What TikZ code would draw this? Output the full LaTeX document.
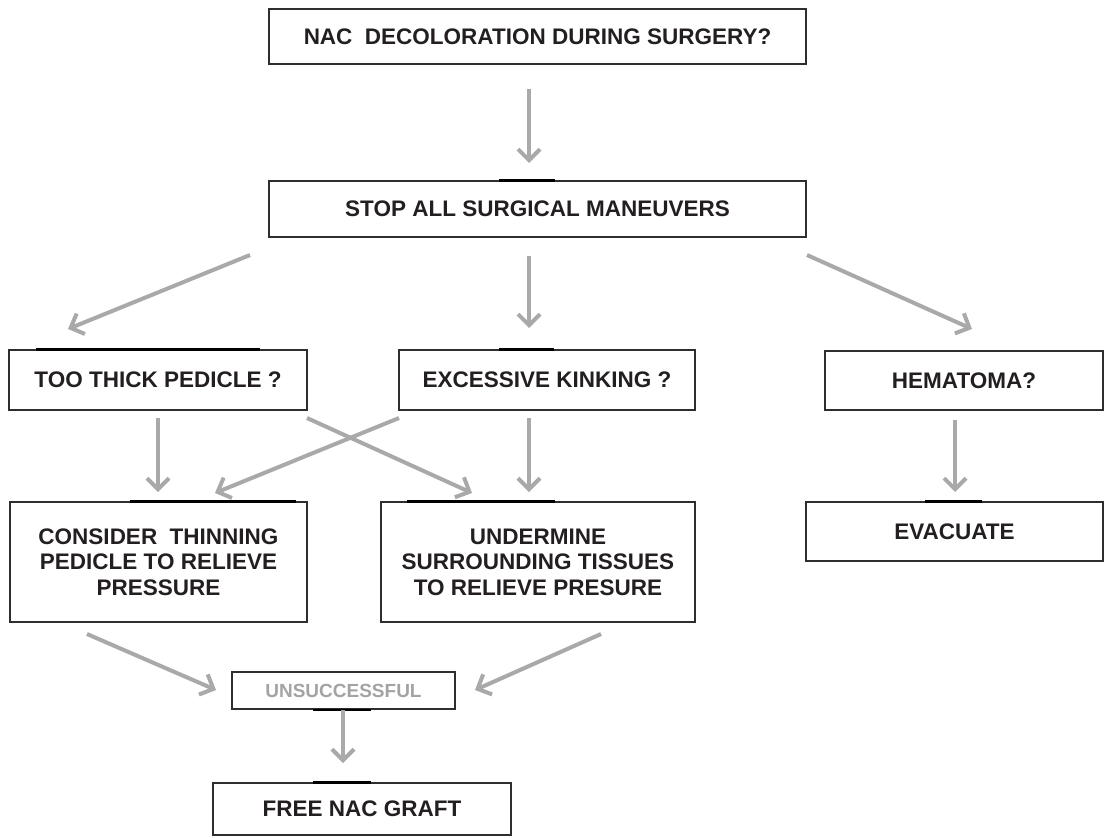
\documentclass[tikz,border=0pt]{standalone}
\usepackage{fontspec}
\setmainfont{Liberation Sans}
\usetikzlibrary{arrows.meta}
\definecolor{arrgray}{HTML}{A9A9A9}
\definecolor{boxline}{HTML}{2E2E2E}
\definecolor{txt}{HTML}{231F20}
\definecolor{ltxt}{HTML}{A3A3A3}
\tikzset{
  box/.style={draw=boxline, line width=1.3pt, rectangle, inner sep=0pt, align=center,
    font=\fontsize{22.5}{25.5}\selectfont\bfseries, text=txt},
  arr/.style={draw=arrgray, line width=4pt, -{Straight Barb[length=11pt,width=22pt]}},
  seg/.style={draw=black, line width=2.8pt},
}
\begin{document}
\begin{tikzpicture}[x=1pt,y=1pt]
\useasboundingbox (0,0) rectangle (1106,-838);
% boxes
\node[box, minimum width=537pt, minimum height=55pt] (top) at (537.5,-36.5) {NAC\ \ DECOLORATION DURING SURGERY?};
\node[box, minimum width=537pt, minimum height=56pt] (stop) at (537.5,-209) {STOP ALL SURGICAL MANEUVERS};
\node[box, minimum width=298pt, minimum height=60pt] (thick) at (158,-380) {TOO THICK PEDICLE ?};
\node[box, minimum width=296pt, minimum height=60pt] (excess) at (547,-380) {EXCESSIVE KINKING ?};
\node[box, minimum width=278pt, minimum height=59pt] (hema) at (964,-380.5) {HEMATOMA?};
\node[box, minimum width=297pt, minimum height=120pt] (consider) at (158.5,-562) {CONSIDER\ \ THINNING\\PEDICLE TO RELIEVE\\PRESSURE};
\node[box, minimum width=314pt, minimum height=120pt] (under) at (538,-562) {UNDERMINE\\SURROUNDING TISSUES\\TO RELIEVE PRESURE};
\node[box, minimum width=297pt, minimum height=59pt] (evac) at (954.5,-531.5) {EVACUATE};
\node[box, minimum width=223pt, minimum height=37pt, text=ltxt, font=\fontsize{19}{22}\selectfont\bfseries] (unsucc) at (343.5,-690.5) {UNSUCCESSFUL};
\node[box, minimum width=298pt, minimum height=52pt] (free) at (362,-809) {FREE NAC GRAFT};
% dark segments on top edges
\draw[seg] ([xshift=231pt]stop.north west) -- ([xshift=287pt]stop.north west);
\draw[seg] ([xshift=28pt]thick.north west) -- ([xshift=252pt]thick.north west);
\draw[seg] ([xshift=101pt]excess.north west) -- ([xshift=156pt]excess.north west);
\draw[seg] ([xshift=121pt]consider.north west) -- ([xshift=287pt]consider.north west);
\draw[seg] ([xshift=27pt]under.north west) -- ([xshift=175pt]under.north west);
\draw[seg] ([xshift=120pt]evac.north west) -- ([xshift=177pt]evac.north west);
\draw[seg] ([xshift=101pt]free.north west) -- ([xshift=159pt]free.north west);
\draw[seg, line width=2pt] ([xshift=82pt]unsucc.south west) -- ([xshift=140pt]unsucc.south west);
% arrow end points
\coordinate (a1s) at (529,-89);   \coordinate (a1e) at (529,-163);
\coordinate (a2s) at (250,-255);  \coordinate (a2e) at (68,-329);
\coordinate (a3s) at (529,-256);  \coordinate (a3e) at (529,-328);
\coordinate (a4s) at (807,-255);  \coordinate (a4e) at (972,-329);
\coordinate (a5s) at (158,-418);  \coordinate (a5e) at (158,-492);
\coordinate (a6s) at (307,-418);  \coordinate (a6e) at (472,-493);
\coordinate (a7s) at (399,-418);  \coordinate (a7e) at (215,-493);
\coordinate (a8s) at (529,-418);  \coordinate (a8e) at (529,-492);
\coordinate (a9s) at (955,-420);  \coordinate (a9e) at (955,-492);
\coordinate (a10s) at (87,-634);  \coordinate (a10e) at (216,-690);
\coordinate (a11s) at (601,-634); \coordinate (a11e) at (475,-690);
\coordinate (a12s) at (343,-710); \coordinate (a12e) at (343,-763);
\foreach \i in {1,...,12} {\draw[arr] (a\i s) -- (a\i e);}
\end{tikzpicture}
\end{document}
